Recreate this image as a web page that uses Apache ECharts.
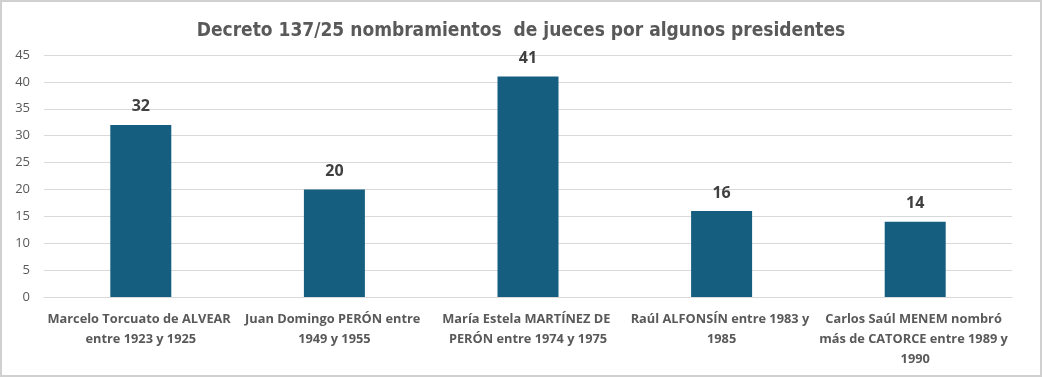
<!DOCTYPE html>
<html><head><meta charset="utf-8">
<script src="https://cdn.jsdelivr.net/npm/echarts@6/dist/echarts.min.js"></script>
<style>html,body{margin:0;padding:0;background:#fff}#c{width:1042px;height:377px;box-sizing:border-box;border:2px solid #d0d0d0}</style>
</head><body><div id="c"></div>
<script>
const titleText = 'Decreto 137/25 nombramientos  de jueces por algunos presidentes';
const categories = [
  'Marcelo Torcuato de ALVEAR entre 1923 y 1925',
  'Juan Domingo PERÓN entre 1949 y 1955',
  'María Estela MARTÍNEZ DE PERÓN entre 1974 y 1975',
  'Raúl ALFONSÍN entre 1983 y 1985',
  'Carlos Saúl MENEM nombró más de CATORCE entre 1989 y 1990'
];
const values = [32, 20, 41, 16, 14];
const yTicks = [0, 5, 10, 15, 20, 25, 30, 35, 40, 45];

const chart = echarts.init(document.getElementById('c'));
chart.setOption({
  animation: false,
  title: {
    text: titleText, left: 'center', top: 15,
    textStyle: {fontFamily: '"DejaVu Sans Condensed", "Liberation Sans Narrow", sans-serif', fontSize: 19, fontWeight: 'bold', color: '#595959'}
  },
  grid: {left: 42, right: 28, top: 53, bottom: 78},
  xAxis: {
    type: 'category', data: categories,
    axisTick: {show: false},
    axisLine: {lineStyle: {color: '#d9d9d9', width: 1}},
    axisLabel: {
      interval: 0, width: 199, overflow: 'break', margin: 12,
      fontFamily: '"Open Sans", sans-serif', fontSize: 12.8, fontWeight: 'bold', color: '#595959', lineHeight: 20
    }
  },
  yAxis: {
    type: 'value', min: yTicks[0], max: yTicks[yTicks.length - 1], interval: 5,
    axisLine: {show: false}, axisTick: {show: false},
    splitLine: {lineStyle: {color: '#d9d9d9', width: 1}},
    axisLabel: {fontFamily: '"Open Sans", sans-serif', fontSize: 13, color: '#595959', margin: 14}
  },
  series: [{
    type: 'bar', data: values, barWidth: 61,
    itemStyle: {color: '#155E80'},
    label: {show: true, position: 'top', distance: 10, fontFamily: '"Open Sans", sans-serif', fontSize: 16, fontWeight: 'bold', color: '#404040'}
  }]
});
</script></body></html>
